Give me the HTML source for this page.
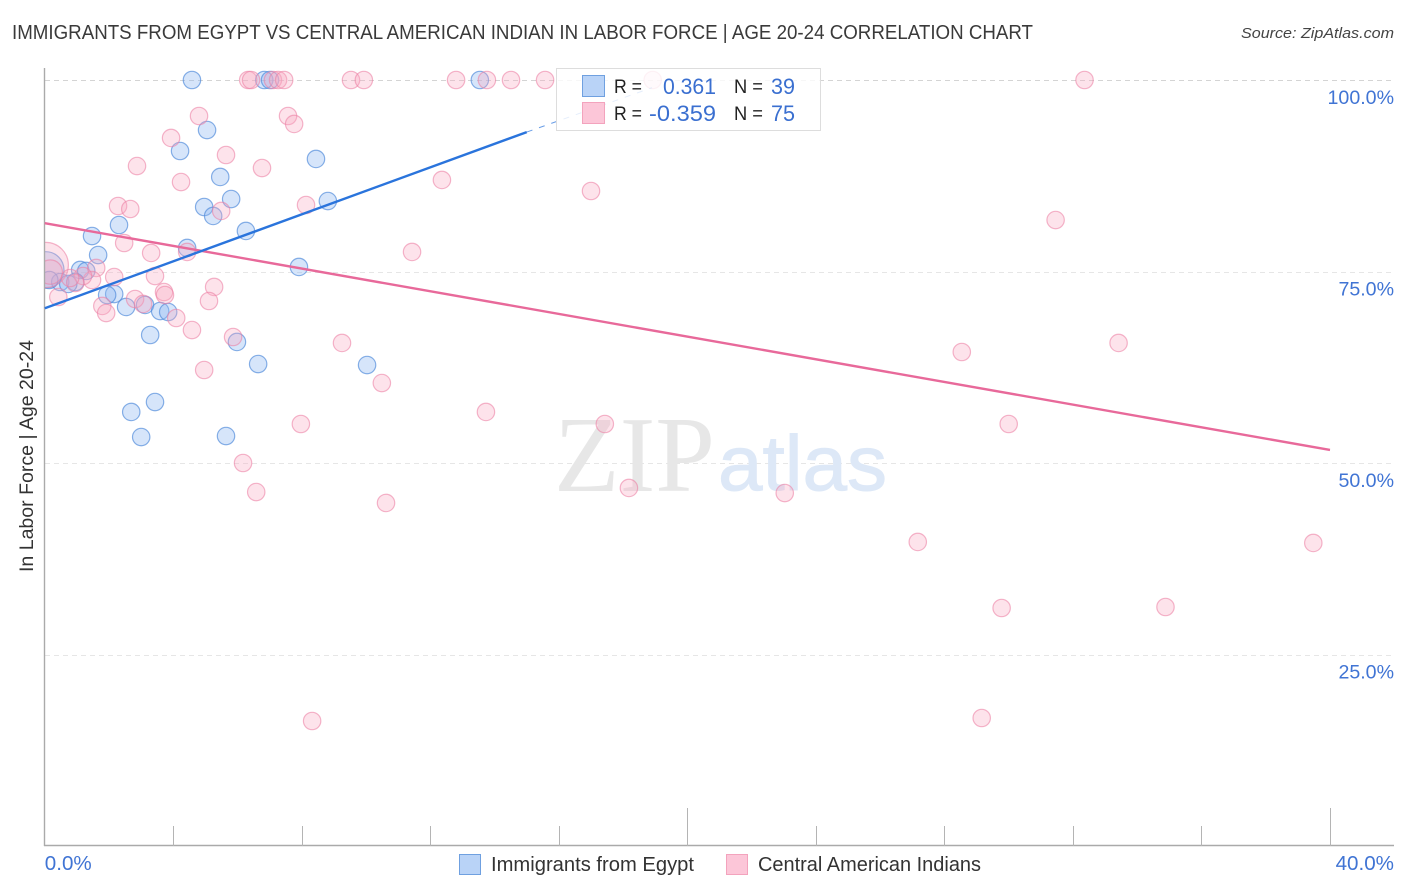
<!DOCTYPE html>
<html lang="en">
<head>
<meta charset="utf-8">
<title>Immigrants from Egypt vs Central American Indian in Labor Force | Age 20-24 Correlation Chart</title>
<style>
html,body{margin:0;padding:0;background:#fff;}
svg{display:block;font-family:"Liberation Sans",sans-serif;}
</style>
</head>
<body>
<svg id="chart" xmlns="http://www.w3.org/2000/svg" width="1406" height="892" viewBox="0 0 1406 892">
  <rect x="0" y="0" width="1406" height="892" fill="#fff"/>
  <text x="12" y="39" font-size="20" fill="#3a3a3a" textLength="1021" lengthAdjust="spacingAndGlyphs">IMMIGRANTS FROM EGYPT VS CENTRAL AMERICAN INDIAN IN LABOR FORCE | AGE 20-24 CORRELATION CHART</text>
  <text x="1241" y="38" font-size="15" font-style="italic" fill="#444" textLength="153" lengthAdjust="spacingAndGlyphs">Source: ZipAtlas.com</text>
  <text transform="translate(33,572) rotate(-90)" font-size="19" fill="#333" textLength="232" lengthAdjust="spacingAndGlyphs">In Labor Force | Age 20-24</text>
  <g id="grid"></g>
  <g>
    <text x="554" y="491" font-family="'Liberation Serif',serif" font-size="108" fill="#e7e7e7" textLength="161" lengthAdjust="spacingAndGlyphs">ZIP</text>
    <text x="718" y="490" font-family="'Liberation Sans',sans-serif" font-size="78" fill="#dde8f7" stroke="#dde8f7" stroke-width="1" textLength="169" lengthAdjust="spacingAndGlyphs">atlas</text>
  </g>
  <g id="points-blue"></g>
  <g id="points-pink"></g>
  <rect x="0" y="225" width="44" height="90" fill="#fff"/>
  <g id="axes"></g>
  <g id="trends"></g>
  <g>
    <rect x="556.5" y="68.5" width="264" height="62" fill="#fff" fill-opacity="0.82" stroke="#ddd" stroke-width="1"/>
    <rect x="582.5" y="75.5" width="22" height="21" fill="#b9d3f7" stroke="#6fa0e0" stroke-width="1"/>
    <rect x="582.5" y="102.5" width="22" height="21" fill="#fcc6d8" stroke="#f3a3bd" stroke-width="1"/>
    <text x="614" y="93" font-size="19" fill="#222" textLength="28" lengthAdjust="spacingAndGlyphs">R =</text>
    <text x="663" y="94" font-size="22" fill="#3a6fd0" textLength="53" lengthAdjust="spacingAndGlyphs">0.361</text>
    <text x="734" y="93" font-size="19" fill="#222" textLength="29" lengthAdjust="spacingAndGlyphs">N =</text>
    <text x="771" y="94" font-size="22" fill="#3a6fd0" textLength="24" lengthAdjust="spacingAndGlyphs">39</text>
    <text x="614" y="120" font-size="19" fill="#222" textLength="28" lengthAdjust="spacingAndGlyphs">R =</text>
    <text x="649" y="121" font-size="22" fill="#3a6fd0" textLength="67" lengthAdjust="spacingAndGlyphs">-0.359</text>
    <text x="734" y="120" font-size="19" fill="#222" textLength="29" lengthAdjust="spacingAndGlyphs">N =</text>
    <text x="771" y="121" font-size="22" fill="#3a6fd0" textLength="24" lengthAdjust="spacingAndGlyphs">75</text>
  </g>
  <g>
    <rect x="459.5" y="854.5" width="21" height="20" fill="#b9d3f7" stroke="#6fa0e0" stroke-width="1"/>
    <text x="491" y="871" font-size="20" fill="#333" textLength="203" lengthAdjust="spacingAndGlyphs">Immigrants from Egypt</text>
    <rect x="726.5" y="854.5" width="21" height="20" fill="#fcc6d8" stroke="#f3a3bd" stroke-width="1"/>
    <text x="758" y="871" font-size="20" fill="#333" textLength="223" lengthAdjust="spacingAndGlyphs">Central American Indians</text>
  </g>
</svg>
<script>
const xTickValues = [0, 4, 8, 12, 16, 20, 24, 28, 32, 36, 40];
const xMajorTicks = [0, 20, 40];
const xTickLabels = ["0.0%", "40.0%"];
const yTickValues = [25, 50, 75, 100];
const yTickLabels = ["25.0%", "50.0%", "75.0%", "100.0%"];

const blueX = [4.58,6.83,7.01,13.54,5.05,4.21,8.44,5.46,5.80,4.96,8.81,5.24,2.31,6.26,1.47,4.43,1.66,7.91,1.10,1.29,0.03,0.95,0.48,0.73,0.14,2.16,1.94,2.53,3.12,3.59,3.84,3.28,5.98,6.64,10.03,3.43,2.69,3.00,5.64];
const blueY = [100,100,100,100,93.47,90.73,89.69,87.34,84.46,83.42,84.20,82.25,81.07,80.29,79.63,78.07,77.15,75.59,75.20,75.07,75.20,73.63,73.63,73.37,73.89,72.06,71.93,70.37,70.63,69.84,69.71,66.71,65.80,62.92,62.79,57.96,56.66,53.39,53.52];
const blueWeights = [1,1,1,1,1,1,1,1,1,1,1,1,1,1,1,1,1,1,1,1,2.1,1,1,1,1,1,1,1,1,1,1,1,1,1,1,1,1,1,1];

const pinkX = [6.33,6.42,7.10,7.26,7.45,9.53,9.93,12.80,13.76,14.51,15.57,18.92,32.36,4.80,7.57,7.76,3.93,5.64,2.87,6.76,4.24,12.36,17.00,2.28,2.66,8.13,5.49,31.46,2.47,3.31,4.43,11.43,1.60,3.43,2.16,1.47,1.19,0.95,0.03,0.17,0.42,5.27,2.81,3.71,3.74,3.06,5.11,1.79,1.91,4.09,4.58,5.86,9.25,33.42,28.54,4.96,10.49,13.73,7.97,17.43,30.00,6.17,18.18,6.58,23.03,10.62,27.17,39.48,29.78,34.88,29.16,8.32,0.79,0.54,0.32];
const pinkY = [100,100,100,100,100,100,100,100,100,100,100,100,100,95.30,95.30,94.26,92.43,90.21,88.77,88.51,86.68,86.95,85.51,83.55,83.16,83.68,82.90,81.72,78.72,77.42,77.55,77.55,75.46,74.41,74.28,73.89,74.41,73.50,75.85,74.93,71.67,72.98,71.41,72.32,71.93,70.76,71.15,70.50,69.58,68.93,67.36,66.45,65.67,65.67,64.49,62.14,60.44,56.66,55.09,55.09,55.09,50.00,46.74,46.21,46.08,44.78,39.69,39.56,31.07,31.20,16.71,16.32,74.15,73.24,72.58];
const pinkWeights = [1,1,1,1,1,1,1,1,1,1,1,1,1,1,1,1,1,1,1,1,1,1,1,1,1,1,1,1,1,1,1,1,1,1,1,1,1,1,2.6,1.4,1,1,1,1,1,1,1,1,1,1,1,1,1,1,1,1,1,1,1,1,1,1,1,1,1,1,1,1,1,1,1,1,1];

const blueTrendX = [0, 15];
const blueTrendY = [70.2, 93.2];
const blueTrendFadeX = [15, 18.9];
const blueTrendFadeY = [93.2, 99.0];
const pinkTrendX = [0, 40];
const pinkTrendY = [81.3, 51.7];

const NS = 'http://www.w3.org/2000/svg';
function xScale(v) { return 44.8 + v * (1330 - 44.8) / 40; }
function yScale(v) { return 846 - v * (846 - 80) / 100; }
function mk(tag, parent, attrs) {
  const el = document.createElementNS(NS, tag);
  for (const k in attrs) el.setAttribute(k, attrs[k]);
  parent.appendChild(el);
  return el;
}

const grid = document.getElementById('grid');
const axes = document.getElementById('axes');

yTickValues.forEach(function (v, i) {
  const y = Math.round(yScale(v)) + 0.5;
  const line = mk('line', grid, { x1: 45, x2: 1394, y1: y, y2: y, stroke: v === 100 ? '#d4d4d4' : '#e6e6e6', 'stroke-width': 1, 'stroke-dasharray': '5 4' });
  
  
  const label = mk('text', axes, { x: 1394, y: yScale(v) + 24, 'text-anchor': 'end', 'font-size': 19.6, fill: '#4074d4' });
  
  
  label.textContent = yTickLabels[i];
});

const yAxis = mk('line', axes, { x1: 44.5, x2: 44.5, y1: 68, y2: 846, stroke: '#aaa', 'stroke-width': 1.4 });


const xAxis = mk('line', axes, { x1: 44, x2: 1394, y1: 845.5, y2: 845.5, stroke: '#aaa', 'stroke-width': 1.4 });



xTickValues.forEach(function (v) {
  if (v === 0) return;
  const x = Math.round(xScale(v)) + 0.5;
  const top = xMajorTicks.indexOf(v) >= 0 ? 808 : 826;
  const tick = mk('line', axes, { x1: x, x2: x, y1: top, y2: 846, stroke: '#b4b4b4', 'stroke-width': 1 });
  
  
});

const xLabelLeft = mk('text', axes, { x: xScale(0), y: 870, 'font-size': 20.6, fill: '#4074d4' });


xLabelLeft.textContent = xTickLabels[0];
const xLabelRight = mk('text', axes, { x: 1394, y: 870, 'text-anchor': 'end', 'font-size': 20.6, fill: '#4074d4' });


xLabelRight.textContent = xTickLabels[1];

const baseRadius = 8.7;
const blueGroup = document.getElementById('points-blue');
blueX.forEach(function (v, i) {
  const c = mk('circle', blueGroup, { cx: xScale(v), cy: yScale(blueY[i]), r: baseRadius * blueWeights[i], fill: '#8db8f0', 'fill-opacity': 0.36, stroke: '#4f8bda', 'stroke-opacity': 0.68, 'stroke-width': 1.2 });
  
  
});
const pinkGroup = document.getElementById('points-pink');
pinkX.forEach(function (v, i) {
  const c = mk('circle', pinkGroup, { cx: xScale(v), cy: yScale(pinkY[i]), r: baseRadius * pinkWeights[i], fill: '#f9a9c2', 'fill-opacity': 0.32, stroke: '#ec7fa4', 'stroke-opacity': 0.58, 'stroke-width': 1.2 });
  
  
});

const trends = document.getElementById('trends');
const pinkTrend = mk('line', trends, { x1: xScale(pinkTrendX[0]), y1: yScale(pinkTrendY[0]), x2: xScale(pinkTrendX[1]), y2: yScale(pinkTrendY[1]), stroke: '#e8699a', 'stroke-width': 2.4 });


const blueTrend = mk('line', trends, { x1: xScale(blueTrendX[0]), y1: yScale(blueTrendY[0]), x2: xScale(blueTrendX[1]), y2: yScale(blueTrendY[1]), stroke: '#2a74dc', 'stroke-width': 2.4 });


const blueFade = mk('line', trends, { x1: xScale(blueTrendFadeX[0]), y1: yScale(blueTrendFadeY[0]), x2: xScale(blueTrendFadeX[1]), y2: yScale(blueTrendFadeY[1]), stroke: '#2a74dc', 'stroke-width': 1, 'stroke-opacity': 0.7, 'stroke-dasharray': '6 7' });


</script>
</body>
</html>
